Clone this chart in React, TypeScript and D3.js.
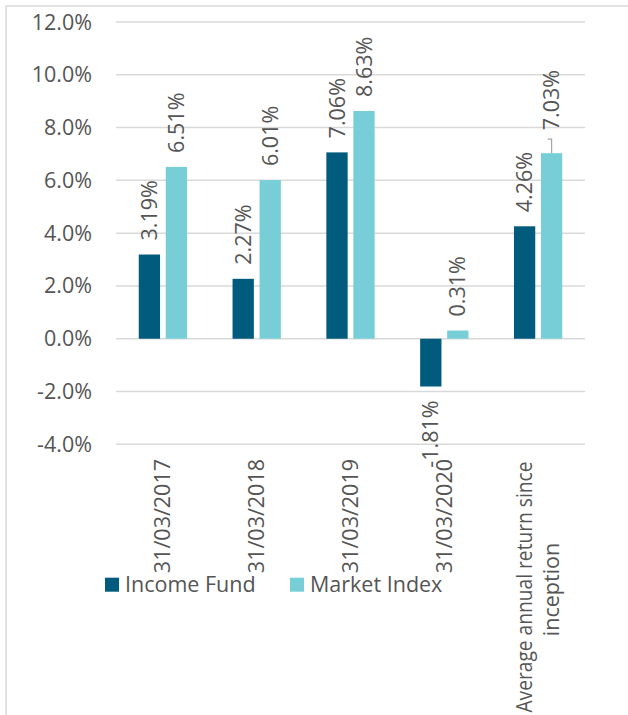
import React from "react";
import * as d3 from "d3";

const categories = ["31/03/2017", "31/03/2018", "31/03/2019", "31/03/2020", "Average annual return since inception"];
const incomeFund = [3.19, 2.27, 7.06, -1.81, 4.26];
const marketIndex = [6.51, 6.01, 8.63, 0.31, 7.03];
const seriesNames = ["Income Fund", "Market Index"];
const yTicks = [-4, -2, 0, 2, 4, 6, 8, 10, 12];

const W = 628;
const H = 715;
const FONT = "'Open Sans', sans-serif";
const TEXT = "#555555";
const GRID = "#d9d9d9";
const COLORS = ["#005B7C", "#78CED7"];

export default function App() {
  const x = d3.scaleBand<string>().domain(categories).range([116, 585]).padding(0);
  const y = d3.scaleLinear().domain([-4, 12]).range([444.3, 22]);
  const barW = 21.3;
  const gap = 5.7;
  const series = [incomeFund, marketIndex];
  const fs = 21.5;

  return (
    <svg width={W} height={H} style={{ position: "absolute", left: 0, top: 0, background: "#fff" }}>
      <rect x={6} y={6} width={W + 20} height={H + 20} fill="#fff" stroke={GRID} strokeWidth={1.5} />
      {yTicks.map((t) => (
        <g key={t}>
          <line x1={116} x2={585} y1={y(t)} y2={y(t)} stroke={GRID} strokeWidth={1.5} />
          <text x={92} y={y(t)} dy="0.35em" textAnchor="end" fontFamily={FONT} fontSize={fs} fill={TEXT}>
            {t.toFixed(1) + "%"}
          </text>
        </g>
      ))}
      {categories.map((c, i) => {
        const cx = (x(c) as number) + x.bandwidth() / 2;
        return (
          <g key={c}>
            {series.map((s, si) => {
              const v = s[i];
              const bx = si === 0 ? cx - gap / 2 - barW : cx + gap / 2;
              const bcx = bx + barW / 2;
              const top = Math.min(y(v), y(0));
              const h = Math.abs(y(v) - y(0));
              const shifted = i === 4 && si === 1;
              const off = shifted ? 23 : 14;
              const ly = v >= 0 ? y(v) - off : y(v) + 14;
              return (
                <g key={si}>
                  <rect x={bx} y={top} width={barW} height={h} fill={COLORS[si]} />
                  <text
                    transform={`translate(${bcx},${ly}) rotate(-90)`}
                    textAnchor={v >= 0 ? "start" : "end"}
                    dy="0.35em"
                    fontFamily={FONT}
                    fontSize={fs}
                    fill={TEXT}
                  >
                    {v.toFixed(2) + "%"}
                  </text>
                  {shifted && (
                    <path
                      d={`M${bcx - 4},${y(v) - 14} H${bcx} V${y(v)}`}
                      fill="none"
                      stroke="#a6a6a6"
                      strokeWidth={1.2}
                    />
                  )}
                </g>
              );
            })}
            {i < 4 ? (
              <text
                transform={`translate(${cx},459) rotate(-90)`}
                textAnchor="end"
                dy="0.35em"
                fontFamily={FONT}
                fontSize={fs}
                fill={TEXT}
              >
                {c}
              </text>
            ) : (
              <g>
                <text
                  transform={`translate(${cx - 13.3},587) rotate(-90)`}
                  textAnchor="middle"
                  dy="0.35em"
                  fontFamily={FONT}
                  fontSize={fs}
                  fill={TEXT}
                  textLength={251}
                  lengthAdjust="spacingAndGlyphs"
                >
                  Average annual return since
                </text>
                <text
                  transform={`translate(${cx + 13.3},589.5) rotate(-90)`}
                  textAnchor="middle"
                  dy="0.35em"
                  fontFamily={FONT}
                  fontSize={fs}
                  fill={TEXT}
                >
                  inception
                </text>
              </g>
            )}
          </g>
        );
      })}
      {seriesNames.map((n, i) => {
        const lx = i === 0 ? 105 : 290;
        return (
          <g key={n}>
            <rect x={lx} y={577.7} width={14} height={14} fill={COLORS[i]} />
            <text x={lx + 20} y={592} fontFamily={FONT} fontSize={fs} fill={TEXT}>
              {n}
            </text>
          </g>
        );
      })}
    </svg>
  );
}
